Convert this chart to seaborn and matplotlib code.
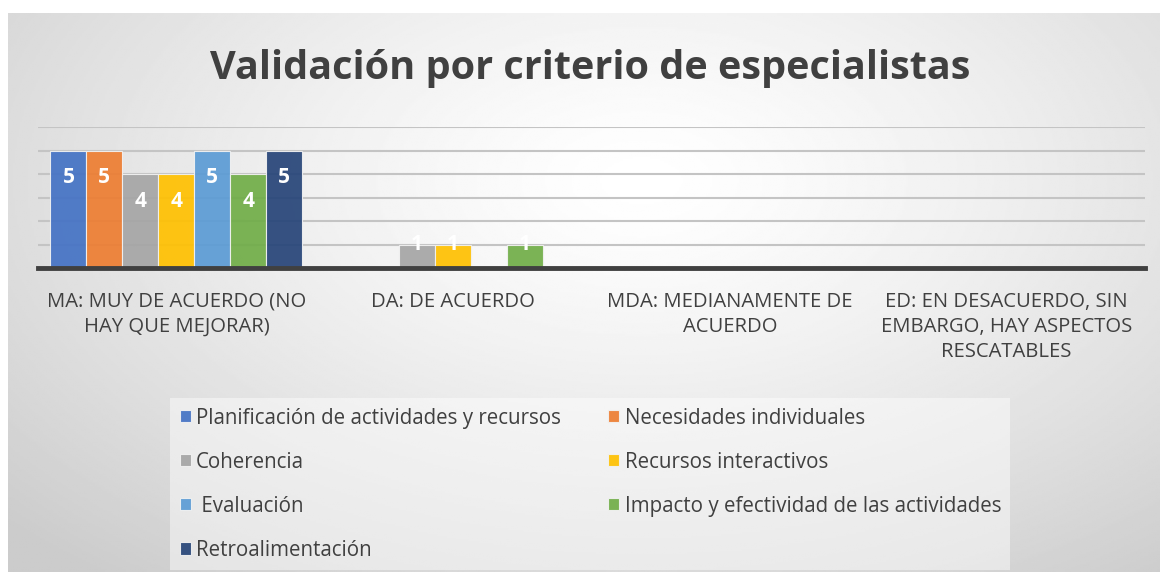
import numpy as np
import pandas as pd
import matplotlib
matplotlib.use("Agg")
import matplotlib.pyplot as plt
import seaborn as sns

categories = ["MA: MUY DE ACUERDO (NO\nHAY QUE MEJORAR)", "DA: DE ACUERDO",
              "MDA: MEDIANAMENTE DE\nACUERDO",
              "ED: EN DESACUERDO, SIN\nEMBARGO, HAY ASPECTOS\nRESCATABLES"]
series = ["Planificación de actividades y recursos", "Necesidades individuales",
          "Coherencia", "Recursos interactivos", " Evaluación",
          "Impacto y efectividad de las actividades", "Retroalimentación"]
planificacion = [5, 0, 0, 0]
necesidades = [5, 0, 0, 0]
coherencia = [4, 1, 0, 0]
recursos = [4, 1, 0, 0]
evaluacion = [5, 0, 0, 0]
impacto = [4, 1, 0, 0]
retro = [5, 0, 0, 0]
values = [planificacion, necesidades, coherencia, recursos, evaluacion, impacto, retro]
colors = ["#4472C4", "#ED7D31", "#A5A5A5", "#FFC000", "#5B9BD5", "#70AD47", "#264478"]

rows = []
for s, vals in zip(series, values):
    for c, v in zip(categories, vals):
        rows.append({"cat": c, "serie": s, "val": v})
df = pd.DataFrame(rows)

sns.set_theme(style="white")
plt.rcParams['font.family'] = ['Open Sans', 'DejaVu Sans']

W, H = 1165, 572
fig = plt.figure(figsize=(W / 100, H / 100), dpi=100)
fig.patch.set_facecolor("white")

# radial gradient background
bg = fig.add_axes([8 / W, 0, (1160 - 8) / W, (H - 13) / H], zorder=-10)
yy, xx = np.mgrid[0:1:300j, 0:1:600j]
r = np.sqrt(((xx - 0.55) / 0.75) ** 2 + ((yy - 0.3) / 0.9) ** 2)
r = np.clip(r, 0, 1)
img = 1.0 - 0.2 * r ** 1.3
bg.imshow(img, cmap="gray", vmin=0, vmax=1, aspect="auto", extent=[0, 1, 1, 0])
bg.axis("off")

ax = fig.add_axes([38 / W, 1 - 268 / H, (1145 - 38) / W, (268 - 127) / H])
ax.patch.set_alpha(0)
sns.barplot(data=df, x="cat", y="val", hue="serie", order=categories, hue_order=series,
            palette=colors, width=0.91, saturation=1, ax=ax, edgecolor="#f2f2f2",
            linewidth=0.8, alpha=0.92, zorder=3)
ax.set_ylim(0, 6)
ax.set_yticks(range(0, 7))
ax.set_yticklabels([])
ax.tick_params(axis="y", length=0)
ax.grid(axis="y", color="#c4c4c4", linewidth=1.5, zorder=0)
ax.set_axisbelow(True)
for s in ["top", "right", "left"]:
    ax.spines[s].set_visible(False)
ax.spines["bottom"].set_color("#404040")
ax.spines["bottom"].set_linewidth(3.5)
ax.spines["bottom"].set_zorder(5)
ax.set_xlabel("")
ax.set_ylabel("")
ax.tick_params(axis="x", length=0, pad=17, labelsize=14.6, labelcolor="#404040")
for t in ax.get_xticklabels():
    t.set_multialignment("center")
    t.set_linespacing(1.35)

for p in ax.patches:
    h = p.get_height()
    if h and h > 0:
        ypos = h - 1.15 if h > 2 else h
        ax.text(p.get_x() + p.get_width() / 2, ypos, f"{int(h)}", ha="center", va="center",
                color="white", fontsize=15, fontweight="bold", zorder=6)

handles, labels = ax.get_legend_handles_labels()
if ax.legend_:
    ax.legend_.remove()
order = [0, 2, 4, 6, 1, 3, 5]
leg = fig.legend([handles[i] for i in order], [labels[i] for i in order], ncol=2,
                 loc="upper left", bbox_to_anchor=(160 / W, 1 - 388 / H), frameon=True,
                 fontsize=14.8, handlelength=0.55, handleheight=0.55, handletextpad=0.25,
                 columnspacing=2.3, labelspacing=1.12, borderpad=0.45)
frame = leg.get_frame()
frame.set_facecolor("white")
frame.set_alpha(0.45)
frame.set_edgecolor("none")
frame.set_boxstyle("square", pad=0)
for t in leg.get_texts():
    t.set_color("#404040")

fig.text(590 / W, 1 - 68 / H, "Validación por criterio de especialistas", ha="center",
         va="center", fontsize=28.5, fontweight="bold", color="#404040")

fig.savefig("out.png", dpi=100)
